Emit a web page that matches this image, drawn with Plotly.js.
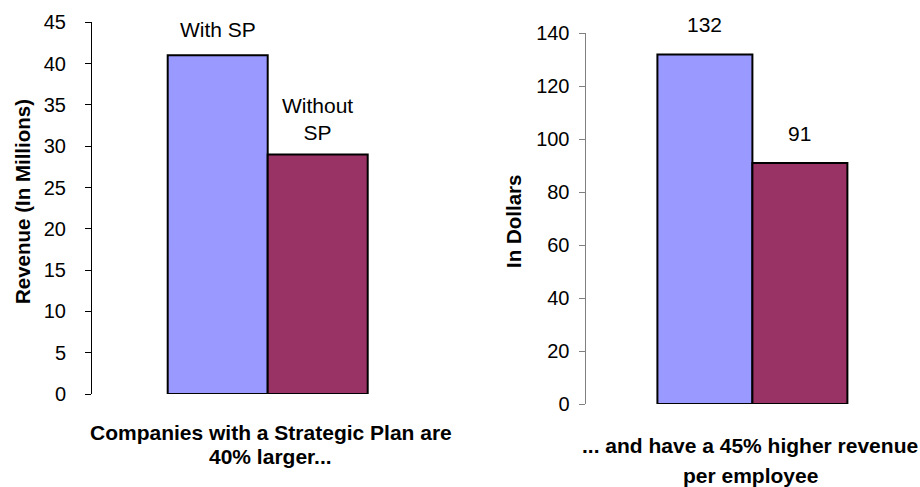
<!DOCTYPE html>
<html>
<head>
<meta charset="utf-8">
<script src="https://cdn.plot.ly/plotly-3.0.1.min.js"></script>
<style>html,body{margin:0;padding:0;background:#fff;}#chart{width:920px;height:487px;}</style>
</head>
<body>
<div id="chart"></div>
<script>
// Data
const categories = ["With SP", "Without SP"];
const revenueMillions = [41, 29];
const revenuePerEmployee = [132, 91];
const leftLabels = ["With SP", "Without<br>SP"];
const rightLabels = ["132", "91"];
const leftTicks = [0, 5, 10, 15, 20, 25, 30, 35, 40, 45];
const rightTicks = [0, 20, 40, 60, 80, 100, 120, 140];
const barColors = ["#9999FF", "#993366"];

const FONT = "Liberation Sans, Arial, sans-serif";

const traces = [
  {
    type: "bar", x: categories, y: revenueMillions, xaxis: "x", yaxis: "y",
    marker: {color: barColors, line: {color: "#000", width: 2}},
    hoverinfo: "none", showlegend: false
  },
  {
    type: "bar", x: categories, y: revenuePerEmployee, xaxis: "x2", yaxis: "y2",
    marker: {color: barColors, line: {color: "#000", width: 2}},
    hoverinfo: "none", showlegend: false
  }
];

const annotations = [];
categories.forEach((c, i) => {
  annotations.push({xref: "x", yref: "y", x: c, y: revenueMillions[i], text: leftLabels[i],
    showarrow: false, yanchor: "bottom", yshift: i === 0 ? 12 : 8,
    font: {family: FONT, size: 21, color: "#000"}});
  annotations.push({xref: "x2", yref: "y2", x: c, y: revenuePerEmployee[i], text: rightLabels[i],
    showarrow: false, yanchor: "bottom", yshift: 16,
    font: {family: FONT, size: 21, color: "#000"}});
});
const titleFont = {family: FONT, size: 21, color: "#000", weight: "bold"};
const yTitleFont = {family: FONT, size: 20.5, color: "#000", weight: "bold"};
annotations.push(
  {xref: "paper", yref: "paper", x: 270.7/920, y: 1 - 432.7/487, text: "<b>Companies with a Strategic Plan are</b>", showarrow: false, xanchor: "center", yanchor: "middle", font: titleFont},
  {xref: "paper", yref: "paper", x: 270.7/920, y: 1 - 456.7/487, text: "<b>40% larger...</b>", showarrow: false, xanchor: "center", yanchor: "middle", font: titleFont},
  {xref: "paper", yref: "paper", x: 750/920, y: 1 - 445/487, text: "<b>... and have a 45% higher revenue</b>", showarrow: false, xanchor: "center", yanchor: "middle", font: titleFont},
  {xref: "paper", yref: "paper", x: 750/920, y: 1 - 475/487, text: "<b>per employee</b>", showarrow: false, xanchor: "center", yanchor: "middle", font: titleFont},
  {xref: "paper", yref: "paper", x: 22/920, y: 1 - 202/487, text: "<b>Revenue (In Millions)</b>", textangle: -90, showarrow: false, xanchor: "center", yanchor: "middle", font: yTitleFont},
  {xref: "paper", yref: "paper", x: 513/920, y: 1 - 222/487, text: "<b>In Dollars</b>", textangle: -90, showarrow: false, xanchor: "center", yanchor: "middle", font: yTitleFont}
);

const layout = {
  width: 920, height: 487,
  margin: {l: 0, r: 0, t: 0, b: 0, pad: 0},
  paper_bgcolor: "#fff", plot_bgcolor: "#fff",
  bargap: 0, showlegend: false,
  font: {family: FONT, color: "#000"},
  xaxis: {domain: [92/920, 443.4/920], range: [-1.257, 2.257], showticklabels: false,
    showline: false, showgrid: false, zeroline: false, ticks: "", fixedrange: true},
  yaxis: {domain: [1 - 394/487, 1 - 22.3/487], range: [0, 45], tickvals: leftTicks,
    showline: true, linecolor: "#000", linewidth: 1, ticks: "outside", ticklen: 6, tickcolor: "#000",
    showgrid: false, zeroline: false, ticklabelstandoff: 15,
    tickfont: {family: FONT, size: 20, color: "#000"}, anchor: "x", fixedrange: true},
  xaxis2: {domain: [585.5/920, 919.3/920], range: [-1.257, 2.257], showticklabels: false,
    showline: false, showgrid: false, zeroline: false, ticks: "", anchor: "y2", fixedrange: true},
  yaxis2: {domain: [1 - 404/487, 1 - 33.3/487], range: [0, 140], tickvals: rightTicks,
    showline: true, linecolor: "#808080", linewidth: 1, ticks: "outside", ticklen: 6, tickcolor: "#808080",
    showgrid: false, zeroline: false, ticklabelstandoff: 5,
    tickfont: {family: FONT, size: 20, color: "#000"}, anchor: "x2", fixedrange: true},
  annotations: annotations
};

Plotly.newPlot("chart", traces, layout, {displayModeBar: false, staticPlot: true});
</script>
</body>
</html>
